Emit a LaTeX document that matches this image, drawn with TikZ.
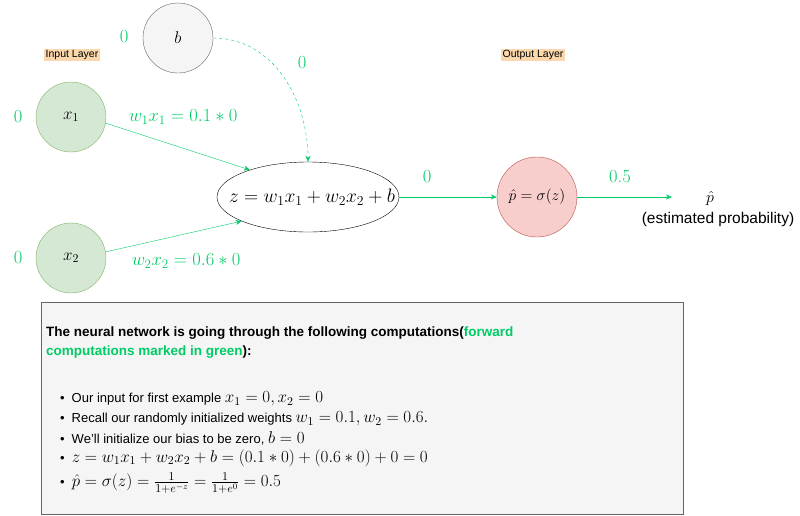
\RequirePackage{fix-cm}
\documentclass[tikz,border=0pt]{standalone}
\usepackage{amsmath,amssymb}
\usepackage{fontspec}
\setsansfont{Liberation Sans}
\usepackage{xcolor}
\usetikzlibrary{shapes.geometric, arrows.meta, positioning}
\definecolor{fwdgreen}{HTML}{00CC66}
\definecolor{inputfill}{HTML}{D5E8D4}
\definecolor{inputdraw}{HTML}{82B366}
\definecolor{biasfill}{HTML}{F5F5F5}
\definecolor{biasdraw}{HTML}{666666}
\definecolor{outfill}{HTML}{F8CECC}
\definecolor{outdraw}{HTML}{B85450}
\definecolor{layerbg}{HTML}{FAD7AC}
\newcommand{\bigmath}[1]{{\fontsize{17}{19}\selectfont$#1$}}
\tikzset{
    neuron/.style={circle, draw, minimum size=70pt, inner sep=0pt, font=\fontsize{17}{19}\selectfont},
    inneuron/.style={neuron, fill=inputfill, draw=inputdraw},
    val/.style={text=fwdgreen, font=\fontsize{18.5}{20}\selectfont},
    layer/.style={fill=layerbg, font=\sffamily\fontsize{10.5}{12}\selectfont, inner sep=1.5pt},
    fwd/.style={draw=fwdgreen, -{Stealth[length=6pt, width=5pt]}},
    line/.style={anchor=west, inner sep=0pt, font=\sffamily\fontsize{13}{15}\selectfont}
}

\begin{document}
\begin{tikzpicture}[x=1pt, y=-1pt]
    \useasboundingbox (0,0) rectangle (800,515);
    % network
    \node (b) [neuron, fill=biasfill, draw=biasdraw] at (178,38) {$b$};
    \node (x1) [inneuron] at (71,117) {$x_1$};
    \node (x2) [inneuron] at (71,258) {$x_2$};
    \node (sum) [ellipse, draw, minimum width=182pt, minimum height=70pt, inner sep=0pt, font=\fontsize{19.5}{21}\selectfont] at (308,197) {\makebox[100pt]{\hspace{8pt}$z = w_1x_1 + w_2x_2 + b$}};
    \node (act) [neuron, fill=outfill, draw=outdraw, minimum size=80pt, font=\fontsize{15.5}{17}\selectfont] at (537,197) {$\hat{p} = \sigma(z)$};
    \coordinate (out) at (672,197);
    \node (phat) [font=\fontsize{16}{18}\selectfont] at (710,198) {$\hat{p}$};
    \node (est) [font=\sffamily\fontsize{15.5}{17}\selectfont] at (718,219) {(estimated probability)};

    \node (inlayer) [layer] at (72,55) {Input Layer};
    \node (outlayer) [layer] at (533,55) {Output Layer};

    \node (vb) [val] at (124,37) {0};
    \node (vx1) [val] at (18,117) {0};
    \node (vx2) [val] at (18,258) {0};
    \node (vw1) [val] at (183,117) {$w_1x_1 = 0.1 * 0$};
    \node (vw2) [val] at (186,261) {$w_2x_2 = 0.6 * 0$};
    \node (vbias) [val] at (302,63) {0};
    \node (vz) [val] at (427,177) {0};
    \node (vp) [val] at (620,177) {0.5};

    \draw [fwd] (x1.-10) -- (sum.155);
    \draw [fwd] (x2.10) -- (sum.200);
    \draw [fwd, dashed] (b.east) to[out=0, in=90] (sum.north);
    \draw [fwd] (sum) -- (act);
    \draw [fwd] (act) -- (out);

    % computations
    \node (note) [draw=biasdraw, fill=biasfill, anchor=north west, minimum width=642pt, minimum height=212pt] at (41,302) {};
    \node (title1) [line, font=\sffamily\bfseries\fontsize{13.5}{15}\selectfont] at (46,333) {The neural network is going through the following computations(\textcolor{fwdgreen}{forward}};
    \node (title2) [line, font=\sffamily\bfseries\fontsize{13.5}{15}\selectfont] at (46,352) {\textcolor{fwdgreen}{computations marked in green}):};
    \foreach \y/\txt in {399/{Our input for first example \bigmath{x_1 = 0, x_2 = 0}},
                         419/{Recall our randomly initialized weights \bigmath{w_1 = 0.1, w_2 = 0.6.}},
                         438/{We'll initialize our bias to be zero, \bigmath{b = 0}},
                         458/{\bigmath{z = w_1x_1 + w_2x_2 + b = (0.1 * 0) + (0.6 * 0) + 0 = 0}},
                         483/{\bigmath{\hat{p} = \sigma(z) = \frac{1}{1+e^{-z}} = \frac{1}{1+e^0} = 0.5}}}
        \node (item\y) [line] at (60,\y) {\textbullet\hspace{7pt}\txt};
\end{tikzpicture}
\end{document}
